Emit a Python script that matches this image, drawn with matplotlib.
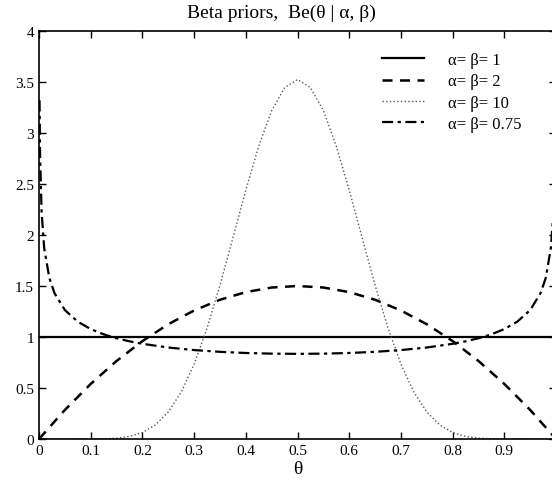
import numpy as np
import matplotlib
matplotlib.use('Agg')
import matplotlib.pyplot as plt

plt.rcParams['font.family'] = ['Liberation Serif', 'DejaVu Serif']

# alpha = beta = 1
th1 = [0.0, 1.0]
p1 = [1.0, 1.0]

# alpha = beta = 2
th2 = [0.0, 0.05, 0.1, 0.15, 0.2, 0.25, 0.3, 0.35, 0.4, 0.45, 0.5,
       0.55, 0.6, 0.65, 0.7, 0.75, 0.8, 0.85, 0.9, 0.95, 1.0]
p2 = [0.0, 0.285, 0.54, 0.765, 0.96, 1.125, 1.26, 1.365, 1.44, 1.485, 1.5,
      1.485, 1.44, 1.365, 1.26, 1.125, 0.96, 0.765, 0.54, 0.285, 0.0]

# alpha = beta = 10
th10 = [0.0, 0.075, 0.1, 0.125, 0.15, 0.175, 0.2, 0.225, 0.25, 0.275, 0.3,
        0.325, 0.35, 0.375, 0.4, 0.425, 0.45, 0.475, 0.5,
        0.525, 0.55, 0.575, 0.6, 0.625, 0.65, 0.675, 0.7,
        0.725, 0.75, 0.775, 0.8, 0.825, 0.85, 0.875, 0.9, 0.925, 1.0]
p10 = [0.0, 0.0, 0.0004, 0.0021, 0.0082, 0.0252, 0.0635, 0.1377, 0.2646, 0.460, 0.734,
       1.087, 1.508, 1.971, 2.440, 2.871, 3.219, 3.445, 3.524,
       3.445, 3.219, 2.871, 2.440, 1.971, 1.508, 1.087, 0.734,
       0.460, 0.2646, 0.1377, 0.0635, 0.0252, 0.0082, 0.0021, 0.0004, 0.0, 0.0]

# alpha = beta = 0.75
th075 = [0.001, 0.002, 0.005, 0.01, 0.02, 0.03, 0.05, 0.075, 0.1, 0.125, 0.15, 0.175,
         0.2, 0.25, 0.3, 0.35, 0.4, 0.45, 0.5, 0.55, 0.6, 0.65, 0.7, 0.75, 0.8,
         0.825, 0.85, 0.875, 0.9, 0.925, 0.95, 0.97, 0.98, 0.99, 0.995, 0.998, 0.999]
p075 = [3.320, 2.792, 2.222, 1.871, 1.577, 1.429, 1.264, 1.150, 1.0775, 1.0263, 0.9877, 0.9575,
        0.9332, 0.8969, 0.8719, 0.8546, 0.8432, 0.8368, 0.8347, 0.8368, 0.8432, 0.8546, 0.8719, 0.8969, 0.9332,
        0.9575, 0.9877, 1.0263, 1.0775, 1.150, 1.264, 1.429, 1.577, 1.871, 2.222, 2.792, 3.320]

xtick_labels = ['0', '0.1', '0.2', '0.3', '0.4', '0.5', '0.6', '0.7', '0.8', '0.9', '']
ytick_labels = ['0', '0.5', '1', '1.5', '2', '2.5', '3', '3.5', '4']

fig = plt.figure(figsize=(5.52, 4.89), dpi=100)
ax = fig.add_axes([0.0707, 0.1002, 0.9366, 0.8344])

ax.plot(th1, p1, 'k-', lw=1.6, label='α= β= 1')
ax.plot(th2, p2, 'k--', lw=1.8, dashes=(4, 3), label='α= β= 2')
ax.plot(th10, p10, color='0.35', ls=':', lw=1.0, label='α= β= 10')
ax.plot(th075, p075, 'k-.', lw=1.6, dashes=(5, 2, 1.5, 2), label='α= β= 0.75')

ax.set_xlim(0, 1)
ax.set_ylim(0, 4)
ax.set_xticks(np.arange(0, 1.01, 0.1))
ax.set_xticklabels(xtick_labels)
ax.set_yticks(np.arange(0, 4.01, 0.5))
ax.set_yticklabels(ytick_labels)
ax.tick_params(direction='in', top=True, right=True, labelsize=11, length=5, width=1)
for s in ax.spines.values():
    s.set_linewidth(1.2)

ax.set_xlabel('θ', fontsize=14, labelpad=2)
fig.text(0.509, 0.972, 'Beta priors,  Be(θ | α, β)', ha='center', va='center', fontsize=14)

ax.legend(loc='upper left', bbox_to_anchor=(367 / 552, 1 - 38 / 489), bbox_transform=fig.transFigure,
          frameon=False, fontsize=12, handlelength=2.5, handletextpad=1.45, labelspacing=0.32)

fig.savefig('out.png', dpi=100)
